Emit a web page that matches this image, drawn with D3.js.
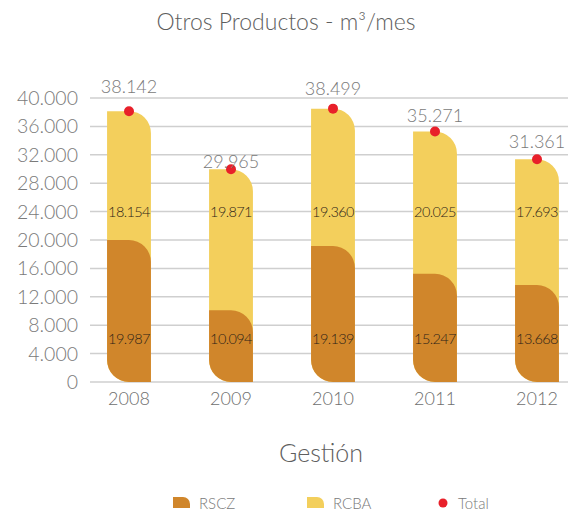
<!DOCTYPE html>
<html>
<head>
<meta charset="utf-8">
<script src="https://cdn.jsdelivr.net/npm/d3@7"></script>
<style>
  body { margin: 0; background: #fff; }
  text { font-family: Lato, "Open Sans", sans-serif; }
</style>
</head>
<body>
<svg id="chart" width="568" height="518"></svg>
<script>
// data
const years = ["2008", "2009", "2010", "2011", "2012"];
const rscz = [19987, 10094, 19139, 15247, 13668];
const rcba = [18154, 19871, 19360, 20025, 17693];
const totals = [38142, 29965, 38499, 35271, 31361];
const yTicks = [0, 4000, 8000, 12000, 16000, 20000, 24000, 28000, 32000, 36000, 40000];

// how far each total label sits above its dot (as in the original)
const totalLabelLift = [18, 1, 14, 10, 11];

const width = 568;
const height = 518;
const COL_RSCZ = "#d0862b";
const COL_RCBA = "#f3cf5c";
const COL_TOTAL = "#e8202a";
const R = 23;

const svg = d3.select("#chart");

const loc = d3.formatLocale({ decimal: ",", thousands: ".", grouping: [3], currency: ["", ""] });
const fmt = loc.format(",d");

const x = d3.scaleBand()
  .domain(years)
  .range([78, 588])
  .paddingInner(0.57)
  .paddingOuter(0.285);

const y = d3.scaleLinear().domain([0, 40000]).range([382, 98]);

// leaf-shaped bar: top-right and bottom-left corners rounded
function leaf(x0, w, yTop, yBot) {
  const r = Math.min(R, (yBot - yTop) / 2, w / 2);
  const p = d3.path();
  p.moveTo(x0, yTop);
  p.arcTo(x0 + w, yTop, x0 + w, yTop + r, r);
  p.lineTo(x0 + w, yBot);
  p.arcTo(x0, yBot, x0, yBot - r, r);
  p.closePath();
  return p.toString();
}

// gridlines + y labels
const grid = svg.append("g");
grid.selectAll("line")
  .data(yTicks)
  .join("line")
  .attr("x1", 90)
  .attr("x2", width)
  .attr("y1", (d) => y(d))
  .attr("y2", (d) => y(d))
  .attr("stroke", "#cfcfcf")
  .attr("stroke-width", 1.5);

grid.selectAll("text")
  .data(yTicks)
  .join("text")
  .attr("x", 78)
  .attr("y", (d) => y(d) + 7)
  .attr("text-anchor", "end")
  .attr("fill", "#7a7a7a")
  .attr("font-size", 19.5)
  .attr("font-weight", 300)
  .text((d) => fmt(d));

// bars
const bars = svg.append("g")
  .selectAll("g")
  .data(years)
  .join("g");

bars.append("path")
  .attr("fill", COL_RCBA)
  .attr("d", (d, i) => leaf(x(d), x.bandwidth(), y(rscz[i] + rcba[i]), y(0)));

bars.append("path")
  .attr("fill", COL_RSCZ)
  .attr("d", (d, i) => leaf(x(d), x.bandwidth(), y(rscz[i]), y(0)));

// segment labels
bars.append("text")
  .attr("x", (d) => x(d) + x.bandwidth() / 2)
  .attr("y", y(6000) + 5)
  .attr("text-anchor", "middle")
  .attr("font-size", 14.5)
  .attr("font-weight", 300)
  .attr("letter-spacing", -0.6)
  .attr("fill", "#2e2418")
  .text((d, i) => fmt(rscz[i]));

bars.append("text")
  .attr("x", (d) => x(d) + x.bandwidth() / 2)
  .attr("y", y(24000) + 5)
  .attr("text-anchor", "middle")
  .attr("font-size", 14.5)
  .attr("font-weight", 300)
  .attr("letter-spacing", -0.6)
  .attr("fill", "#2e2418")
  .text((d, i) => fmt(rcba[i]));

// total dots and labels
bars.append("circle")
  .attr("cx", (d) => x(d) + x.bandwidth() / 2)
  .attr("cy", (d, i) => y(totals[i]))
  .attr("r", 5)
  .attr("fill", COL_TOTAL);

bars.append("text")
  .attr("x", (d) => x(d) + x.bandwidth() / 2)
  .attr("y", (d, i) => y(totals[i]) - totalLabelLift[i])
  .attr("text-anchor", "middle")
  .attr("font-size", 18)
  .attr("font-weight", 300)
  .attr("fill", "#7a7a7a")
  .text((d, i) => fmt(totals[i]));

// x labels
svg.append("g")
  .selectAll("text")
  .data(years)
  .join("text")
  .attr("x", (d) => x(d) + x.bandwidth() / 2)
  .attr("y", 405)
  .attr("text-anchor", "middle")
  .attr("font-size", 18)
  .attr("font-weight", 300)
  .attr("fill", "#6e6e6e")
  .text((d) => d);

// titles
svg.append("text")
  .attr("x", 286)
  .attr("y", 30)
  .attr("text-anchor", "middle")
  .attr("font-size", 23)
  .attr("font-weight", 300)
  .attr("fill", "#5e5e5e")
  .text("Otros Productos - m³/mes");

svg.append("text")
  .attr("x", 321)
  .attr("y", 462)
  .attr("text-anchor", "middle")
  .attr("font-size", 25)
  .attr("font-weight", 300)
  .attr("fill", "#5e5e5e")
  .text("Gestión");

// legend
const legend = svg.append("g");
const legendItems = [
  { name: "RSCZ", color: COL_RSCZ, x: 173, kind: "leaf" },
  { name: "RCBA", color: COL_RCBA, x: 307, kind: "leaf" },
  { name: "Total", color: COL_TOTAL, x: 437, kind: "dot" },
];
legendItems.forEach((it) => {
  if (it.kind === "leaf") {
    const p = d3.path();
    p.moveTo(it.x, 497);
    p.arcTo(it.x + 17, 497, it.x + 17, 505, 7);
    p.lineTo(it.x + 17, 508);
    p.lineTo(it.x, 508);
    p.closePath();
    legend.append("path").attr("d", p.toString()).attr("fill", it.color);
  } else {
    legend.append("circle").attr("cx", it.x + 6).attr("cy", 503).attr("r", 4.5).attr("fill", it.color);
  }
  legend.append("text")
    .attr("x", it.kind === "leaf" ? it.x + 26 : it.x + 21)
    .attr("y", 509)
    .attr("font-size", 15)
    .attr("font-weight", 300)
    .attr("fill", "#7a7a7a")
    .text(it.name);
});
</script>
</body>
</html>
